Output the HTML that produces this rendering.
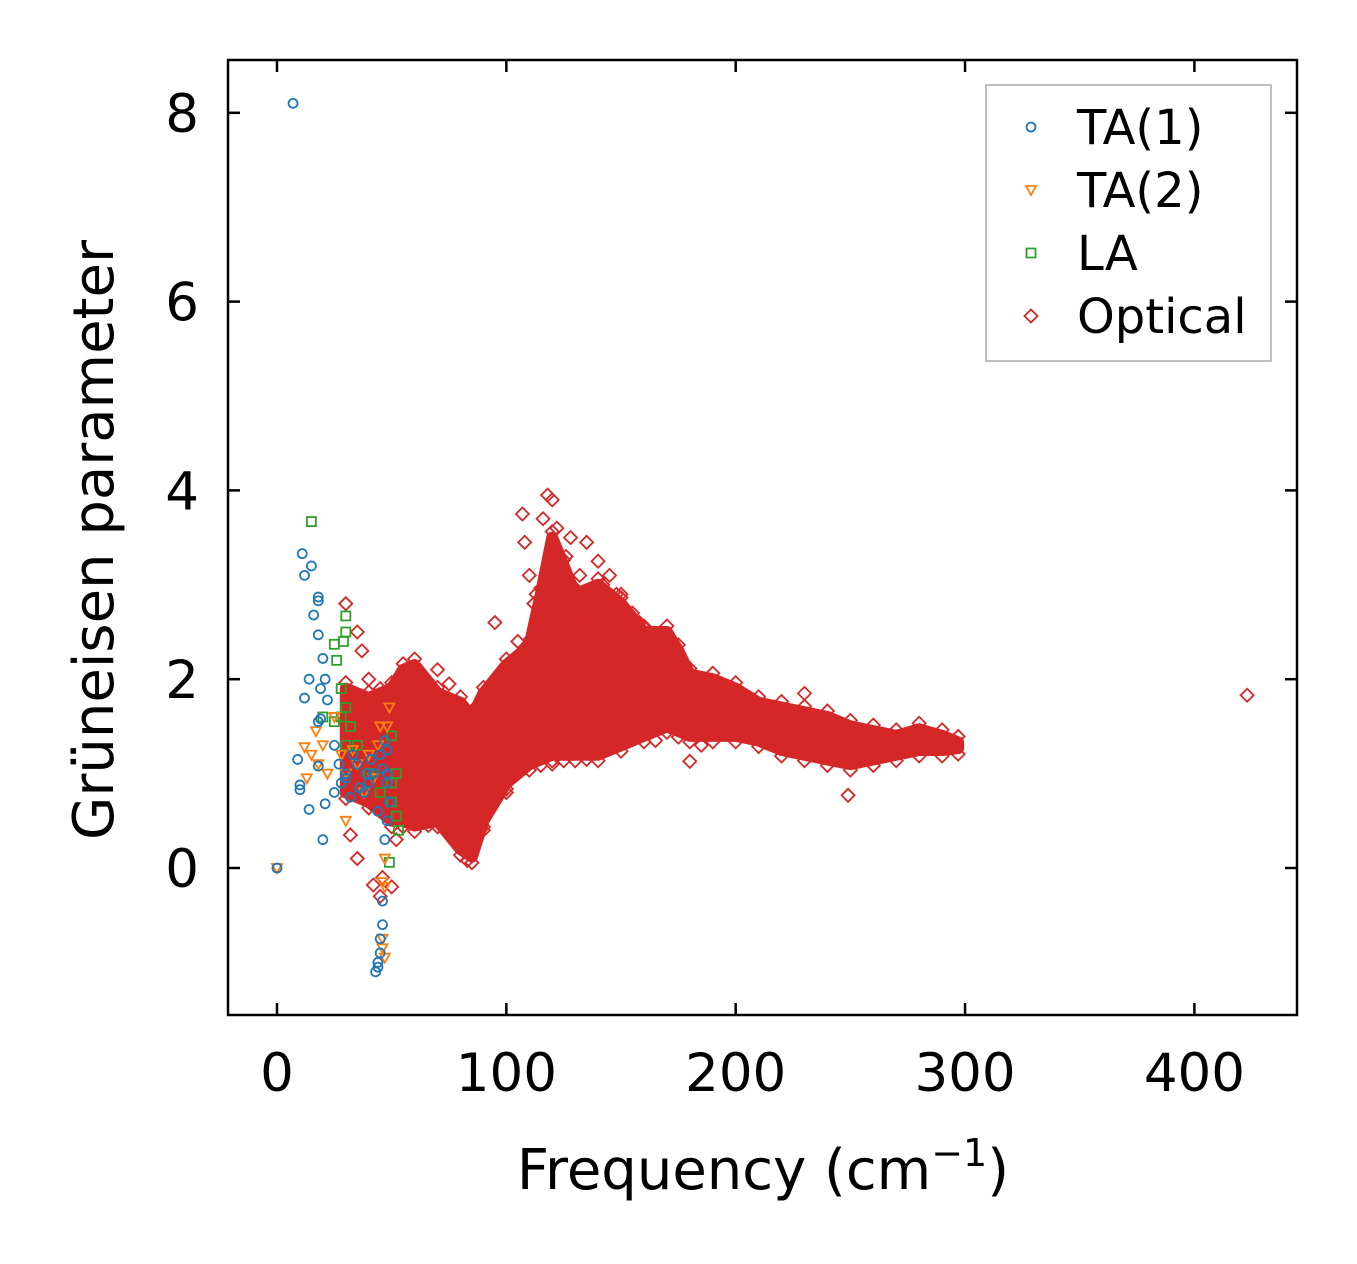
<!DOCTYPE html>
<html><head><meta charset="utf-8">
<style>
html,body{margin:0;padding:0;background:#fff;}
svg{display:block;font-family:"DejaVu Sans","Liberation Sans",sans-serif;}
</style></head>
<body>
<svg id="chart" width="1357" height="1264" viewBox="0 0 1357 1264" xmlns="http://www.w3.org/2000/svg">
<rect width="1357" height="1264" fill="#fff"/>
<g id="marks"></g>
<rect x="228" y="60" width="1069" height="955" fill="none" stroke="#000" stroke-width="2.5"/>
<g id="axes"></g>
<text x="763" y="1189" font-size="56" text-anchor="middle">Frequency (cm<tspan dy="-23" font-size="38">−1</tspan><tspan dy="23">)</tspan></text>
<text transform="translate(113,540) rotate(-90)" font-size="56" text-anchor="middle">Grüneisen parameter</text>
<g>
<rect x="986" y="85" width="285" height="276" fill="#fff" stroke="#aaa" stroke-width="1.5"/>
<g id="legend-entries"></g>
</g>
</svg>
<script>
const xTicks=[0,100,200,300,400];
const yTicks=[0,2,4,6,8];
// Acoustic branches
const ta1X=[7,0,11,12,15,16,18,18,18,20,21,14,19,12,19,18,22,9,18,10,10,14,20,21,25,30,35,40,45,47,48,48,47,46,46,45,45,44,44,43,25,28,32,38,42,44,48,49,27,33,36,41,46,48,30,39];
const ta1Y=[8.1,0,3.33,3.1,3.2,2.68,2.87,2.83,2.47,2.22,2.0,2.0,1.9,1.8,1.58,1.55,1.78,1.15,1.08,0.88,0.83,0.62,0.3,0.68,1.3,1.0,1.1,0.9,1.2,1.35,0.9,0.5,0.3,-0.35,-0.6,-0.75,-0.9,-1.0,-1.05,-1.1,0.8,0.9,0.75,0.8,1.0,0.6,1.0,0.7,1.1,1.2,0.85,1.15,1.05,1.25,0.95,1.0];
const ta2X=[0,12,13,15,17,18,20,22,25,28,30,30,33,35,38,40,45,48,49,47,46,47,46,46,47,42,44];
const ta2Y=[0,1.28,0.95,1.2,1.45,1.1,1.3,1.0,1.6,1.2,1.0,0.5,1.25,1.1,0.8,1.2,1.5,1.5,1.7,0.1,-0.15,-0.2,-0.75,-0.85,-0.95,0.95,1.3];
const laX=[15,30,30,29,25,26,28,30,28,25,20,32,35,40,45,50,50,52,53,49,52,50,30];
const laY=[3.67,2.67,2.5,2.4,2.37,2.2,1.9,1.7,1.6,1.55,1.6,1.5,1.3,1.0,0.8,0.9,0.7,0.55,0.4,0.06,1.0,1.4,1.3];
// Optical dense band envelope
const optFreq=[30,40,50,55,60,70,80,85,90,100,110,115,120,125,130,140,150,160,170,175,180,190,200,210,220,230,240,250,260,270,280,290,297];
const optUpper=[1.9,1.8,1.9,2.1,2.15,1.85,1.75,1.6,1.85,2.15,2.35,2.9,3.5,3.2,2.9,3.0,2.8,2.5,2.5,2.3,2.05,2.0,1.9,1.75,1.7,1.65,1.6,1.5,1.45,1.4,1.47,1.4,1.33];
const optLower=[0.8,0.7,0.5,0.5,0.45,0.5,0.2,0.12,0.5,0.9,1.1,1.15,1.2,1.2,1.2,1.2,1.3,1.4,1.5,1.45,1.4,1.4,1.4,1.35,1.25,1.2,1.15,1.1,1.15,1.2,1.25,1.25,1.27];
// Optical outliers
const optX=[30,35,37,40,32,35,42,45,50,46,70,95,107,108,110,112,118,120,128,135,140,145,150,160,180,185,230,249,423,90,83,66,62,135,165,120,100,116,122,126,132,142,155,105,113,138,148,158,172,65,75,45,52];
const optY=[2.8,2.5,2.3,2.0,0.35,0.1,-0.18,-0.3,-0.2,-0.1,2.1,2.6,3.75,3.45,3.1,2.8,3.95,3.9,3.5,3.45,3.25,3.1,2.9,2.55,1.13,1.3,1.85,0.77,1.83,0.4,0.08,0.45,0.75,1.15,1.35,1.1,0.8,3.7,3.6,3.3,3.1,3.0,2.7,2.4,2.9,2.6,2.9,2.6,2.3,2.0,1.95,1.9,0.3];

const NS="http://www.w3.org/2000/svg";
const sx=v=>277+v*2.2935;
const sy=v=>868-v*94.4;
const C={b:"#1f77b4",o:"#ff7f0e",g:"#2ca02c",r:"#d62728"};
const marks=document.getElementById('marks');
function mk(tag,attrs,parent){const e=document.createElementNS(NS,tag);for(const k in attrs)e.setAttribute(k,attrs[k]);(parent||marks).appendChild(e);return e;}
function circle(x,y,c,p){return mk('circle',{cx:x,cy:y,r:4.5,fill:'none',stroke:c,'stroke-width':1.8},p);}
function tri(x,y,c,p){return mk('path',{d:`M${x-5},${y-4}L${x+5},${y-4}L${x},${y+5}Z`,fill:'none',stroke:c,'stroke-width':1.8},p);}
function sq(x,y,c,p){return mk('rect',{x:x-4.5,y:y-4.5,width:9,height:9,fill:'none',stroke:c,'stroke-width':1.8},p);}
function dia(x,y,c,p){return mk('path',{d:`M${x},${y-6.5}L${x+6.5},${y}L${x},${y+6.5}L${x-6.5},${y}Z`,fill:'none',stroke:c,'stroke-width':1.8},p);}

// Optical band
let d='';
optFreq.forEach((f,i)=>{d+=(i?'L':'M')+sx(f)+','+sy(optUpper[i]);});
for(let i=optFreq.length-1;i>=0;i--)d+='L'+sx(optFreq[i])+','+sy(optLower[i]);
const band=mk('path',{d:d+'Z',fill:C.r,stroke:C.r,'stroke-width':12,'stroke-linejoin':'round'});


optFreq.forEach((f,i)=>{
  const a=dia(sx(f),sy(optUpper[i])-6,C.r);
  
  
  const b=dia(sx(f),sy(optLower[i])+6,C.r);
  
  
});
optX.forEach((x,i)=>{
  const e=dia(sx(x),sy(optY[i]),C.r);
  
  
});
laX.forEach((x,i)=>{
  const e=sq(sx(x),sy(laY[i]),C.g);
  
  
});
ta2X.forEach((x,i)=>{
  const e=tri(sx(x),sy(ta2Y[i]),C.o);
  
  
});
ta1X.forEach((x,i)=>{
  const e=circle(sx(x),sy(ta1Y[i]),C.b);
  
  
});

// Axes
const axes=document.getElementById('axes');
xTicks.forEach(t=>{
  const x=sx(t);
  mk('line',{x1:x,y1:1015,x2:x,y2:1003,stroke:'#000','stroke-width':2.5},axes);
  mk('line',{x1:x,y1:60,x2:x,y2:72,stroke:'#000','stroke-width':2.5},axes);
  const tx=mk('text',{x:x,y:1091,'font-size':53,'text-anchor':'middle'},axes);
  tx.textContent=t;
  
  
});
yTicks.forEach(t=>{
  const y=sy(t);
  mk('line',{x1:228,y1:y,x2:240,y2:y,stroke:'#000','stroke-width':2.5},axes);
  mk('line',{x1:1297,y1:y,x2:1285,y2:y,stroke:'#000','stroke-width':2.5},axes);
  const tx=mk('text',{x:199,y:y+19,'font-size':53,'text-anchor':'end'},axes);
  tx.textContent=t;
  
  
});

// Legend
const lg=document.getElementById('legend-entries');
const labels=['TA(1)','TA(2)','LA','Optical'];
const fns=[circle,tri,sq,dia];
const cols=[C.b,C.o,C.g,C.r];
labels.forEach((l,i)=>{
  const y=127+i*63;
  const g=mk('g',{},lg);
  
  
  fns[i](1031,y,cols[i],g);
  const t=mk('text',{x:1077,y:y+17,'font-size':48},g);
  t.textContent=l;
});
</script>
</body></html>
